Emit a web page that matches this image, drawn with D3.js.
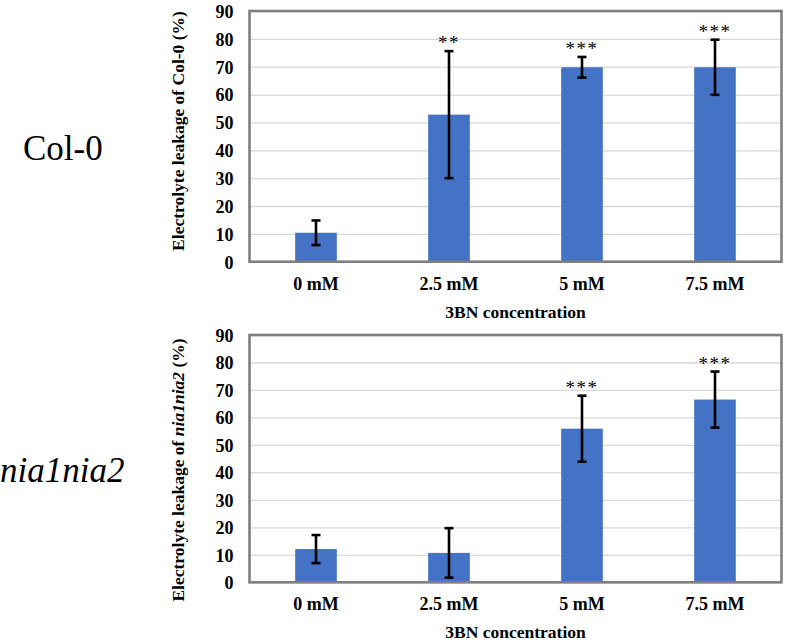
<!DOCTYPE html>
<html>
<head>
<meta charset="utf-8">
<script src="https://cdn.jsdelivr.net/npm/d3@7"></script>
<style>
  html, body { margin: 0; padding: 0; background: #fff; }
  svg { display: block; }
  svg text { font-family: "Liberation Serif", "Times New Roman", serif !important; fill: #000; }
</style>
</head>
<body>
<svg id="chart" width="787" height="642"></svg>
<script>
// ---- data ----
const categories = ["0 mM", "2.5 mM", "5 mM", "7.5 mM"];
const yTicks = [0, 10, 20, 30, 40, 50, 60, 70, 80, 90];

const col0Means  = [10.4, 52.8, 69.8, 69.8];
const col0Errors = [4.4, 22.8, 3.7, 9.9];
const col0Stars  = ["", "**", "***", "***"];

const niaMeans  = [12.1, 10.7, 55.9, 66.5];
const niaErrors = [5.1, 9.0, 12.0, 10.2];
const niaStars  = ["", "", "***", "***"];

const xTitle = "3BN concentration";

// ---- drawing ----
const svg = d3.select("#chart");
const BAR = "#4472c4";

function panel(opts) {
  const left = 249.5, right = 781.5;
  const x = d3.scaleBand().domain(categories).range([left, right])
    .paddingInner(0.687).paddingOuter(0.3435);
  const y = d3.scaleLinear().domain([0, 90]).range([opts.bottom, opts.top]);
  const g = svg.append("g");

  // gridlines
  g.append("g")
    .attr("transform", `translate(${left},0)`)
    .call(d3.axisLeft(y).tickValues(yTicks).tickSize(-(right - left)).tickFormat(""))
    .call(s => s.select(".domain").remove())
    .call(s => s.selectAll("line").attr("stroke", "#d9d9d9").attr("stroke-width", 1.3));

  // bars
  const data = categories.map((c, i) => ({c, m: opts.means[i], e: opts.errors[i], s: opts.stars[i]}));
  g.selectAll("rect.bar").data(data).enter().append("rect")
    .attr("x", d => x(d.c)).attr("width", x.bandwidth())
    .attr("y", d => y(d.m)).attr("height", d => y(0) - y(d.m))
    .attr("fill", BAR);

  // error bars
  const eb = g.selectAll("g.err").data(data).enter().append("g")
    .attr("stroke", "#000").attr("stroke-width", 2.6);
  const cx = d => x(d.c) + x.bandwidth() / 2;
  eb.append("line").attr("x1", cx).attr("x2", cx)
    .attr("y1", d => y(d.m + d.e)).attr("y2", d => y(d.m - d.e));
  eb.append("line").attr("x1", d => cx(d) - 4.5).attr("x2", d => cx(d) + 4.5)
    .attr("y1", d => y(d.m + d.e)).attr("y2", d => y(d.m + d.e));
  eb.append("line").attr("x1", d => cx(d) - 4.5).attr("x2", d => cx(d) + 4.5)
    .attr("y1", d => y(d.m - d.e)).attr("y2", d => y(d.m - d.e));

  // stars
  g.selectAll("text.star").data(data.filter(d => d.s)).enter().append("text")
    .attr("x", cx).attr("y", d => y(d.m + d.e) - 2)
    .attr("text-anchor", "middle")
    .attr("font-size", 19)
    .attr("letter-spacing", 1.5)
    .text(d => d.s);

  // frame
  g.append("rect")
    .attr("x", left).attr("y", y(90))
    .attr("width", right - left).attr("height", y(0) - y(90))
    .attr("fill", "none").attr("stroke", "#7f7f7f").attr("stroke-width", 2.6);

  // y tick labels
  const ya = g.append("g")
    .attr("transform", `translate(${left},0)`)
    .call(d3.axisLeft(y).tickValues(yTicks).tickSize(0).tickPadding(16));
  ya.select(".domain").remove();
  ya.selectAll("text")
    .attr("font-size", 18).attr("font-weight", "bold")
    .attr("dy", "0.35em");

  // x tick labels
  const xa = g.append("g")
    .attr("transform", `translate(0,${y(0)})`)
    .call(d3.axisBottom(x).tickSize(0).tickPadding(0));
  xa.select(".domain").remove();
  xa.selectAll("text")
    .attr("font-size", 18).attr("font-weight", "bold")
    .attr("dy", null).attr("y", 28);

  // x title
  g.append("text")
    .attr("x", (left + right) / 2).attr("y", y(0) + 56)
    .attr("text-anchor", "middle")
    .attr("font-size", 17.5).attr("font-weight", "bold")
    .text(xTitle);

  // y title
  const yt = g.append("text")
    .attr("transform", `translate(184,${opts.titleCenter}) rotate(-90)`)
    .attr("text-anchor", "middle")
    .attr("font-size", 17.5).attr("font-weight", "bold");
  opts.titleParts.forEach(p => {
    yt.append("tspan").attr("font-style", p.italic ? "italic" : "normal").text(p.t);
  });

  // side label
  svg.append("text")
    .attr("x", opts.labelX).attr("y", opts.labelY)
    .attr("font-size", 35)
    .attr("font-style", opts.labelItalic ? "italic" : "normal")
    .text(opts.label);
}

panel({
  top: 11, bottom: 261.7,
  means: col0Means, errors: col0Errors, stars: col0Stars,
  titleCenter: 131,
  titleParts: [{t: "Electrolyte leakage of Col-0 (%)"}],
  label: "Col-0", labelX: 23, labelY: 160, labelItalic: false
});

panel({
  top: 335, bottom: 582.3,
  means: niaMeans, errors: niaErrors, stars: niaStars,
  titleCenter: 470,
  titleParts: [{t: "Electrolyte leakage of "}, {t: "nia1nia2", italic: true}, {t: " (%)"}],
  label: "nia1nia2", labelX: 0, labelY: 481.7, labelItalic: true
});
</script>
</body>
</html>
